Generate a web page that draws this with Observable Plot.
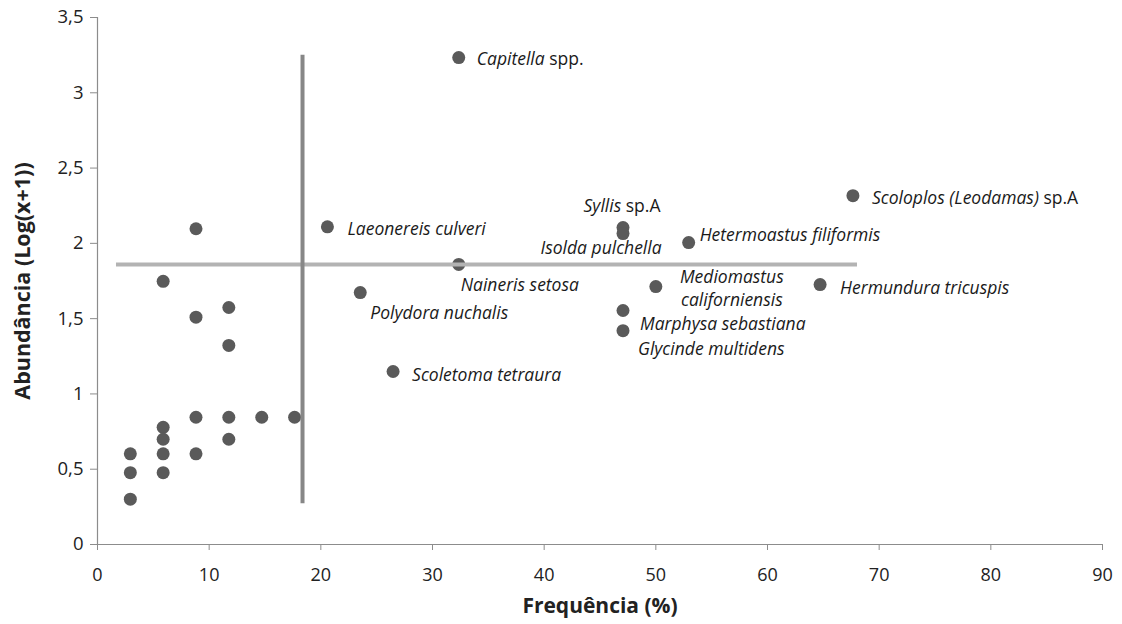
<!DOCTYPE html>
<html>
<head>
<meta charset="utf-8">
<script src="https://cdn.jsdelivr.net/npm/d3@7"></script>
<script src="https://cdn.jsdelivr.net/npm/@observablehq/plot@0.6"></script>
<style>
  html, body { margin: 0; padding: 0; background: #fff; }
  #chart svg { display: block; }
</style>
</head>
<body>
<div id="chart"></div>
<script>
// Unlabelled species: frequency (%) and abundance log(x+1)
const freqUnlabelled = [2.94, 2.94, 2.94, 5.88, 5.88, 5.88, 5.88, 5.88, 8.82, 8.82, 8.82, 8.82, 11.76, 11.76, 11.76, 11.76, 14.71, 17.65];
const abundUnlabelled = [0.602, 0.477, 0.301, 0.778, 0.699, 0.602, 0.477, 1.748, 0.845, 0.602, 2.097, 1.51, 0.845, 0.699, 1.574, 1.322, 0.845, 0.845];

// Labelled species
const speciesNames = [
  "Capitella spp.", "Laeonereis culveri", "Naineris setosa", "Polydora nuchalis",
  "Scoletoma tetraura", "Syllis sp.A", "Isolda pulchella", "Hetermoastus filiformis",
  "Mediomastus\ncaliforniensis", "Hermundura tricuspis", "Scoloplos (Leodamas) sp.A",
  "Marphysa sebastiana", "Glycinde multidens"
];
const speciesFreq = [32.35, 20.59, 32.35, 23.53, 26.47, 47.06, 47.06, 52.94, 50.0, 64.71, 67.65, 47.06, 47.06];
const speciesAbund = [3.234, 2.11, 1.86, 1.673, 1.149, 2.105, 2.065, 2.005, 1.713, 1.726, 2.317, 1.554, 1.42];

// Reference lines (mean frequency / mean abundance)
const meanFreq = 18.36;
const meanAbund = 1.859;
const vLineRange = [0.27, 3.25];
const hLineRange = [1.7, 68.06];

const xTicks = [0, 10, 20, 30, 40, 50, 60, 70, 80, 90];
const yTicks = [0, 0.5, 1, 1.5, 2, 2.5, 3, 3.5];

const pts = freqUnlabelled.map((f, i) => ({f, a: abundUnlabelled[i]}));
const sp = speciesNames.map((n, i) => ({name: n, f: speciesFreq[i], a: speciesAbund[i]}));

// label placement (pixel offsets from the point)
const place = {
  "Capitella spp.": {dx: 18, dy: 0, anchor: "start"},
  "Laeonereis culveri": {dx: 20, dy: 1, anchor: "start"},
  "Naineris setosa": {dx: 2, dy: 19, anchor: "start"},
  "Polydora nuchalis": {dx: 10, dy: 19, anchor: "start"},
  "Scoletoma tetraura": {dx: 19, dy: 2, anchor: "start"},
  "Syllis sp.A": {dx: -1, dy: -23, anchor: "middle"},
  "Isolda pulchella": {dx: -22, dy: 13, anchor: "middle"},
  "Hetermoastus filiformis": {dx: 11, dy: -9, anchor: "start"},
  "Mediomastus\ncaliforniensis": {dx: 76, dy: 1, anchor: "middle"},
  "Hermundura tricuspis": {dx: 20, dy: 2, anchor: "start"},
  "Scoloplos (Leodamas) sp.A": {dx: 19, dy: 1, anchor: "start"},
  "Marphysa sebastiana": {dx: 17, dy: 12, anchor: "start"},
  "Glycinde multidens": {dx: 15, dy: 17, anchor: "start"}
};

const fmt = d => String(d).replace(".", ",");
const labelFont = "'Open Sans', sans-serif";

function labelMarks() {
  return sp.map(d => Plot.text([d], {
    x: "f", y: "a", text: "name",
    dx: place[d.name].dx, dy: place[d.name].dy,
    textAnchor: place[d.name].anchor,
    lineAnchor: "middle",
    lineHeight: 1.3,
    fontSize: 17.5, fontStyle: "italic",
    fontFamily: labelFont, fill: "#1a1a1a",
    className: "splabel"
  }));
}

const chart = Plot.plot({
  width: 1122,
  height: 624,
  marginLeft: 97,
  marginRight: 20,
  marginTop: 17,
  marginBottom: 80,
  style: {background: "#fff", color: "#222"},
  x: {domain: [0, 90]},
  y: {domain: [0, 3.5]},
  marks: [
    Plot.ruleY([0], {stroke: "#8c8c8c", strokeWidth: 1.2}),
    Plot.ruleX([0], {stroke: "#8c8c8c", strokeWidth: 1.2}),
    Plot.axisX({
      ticks: xTicks, tickSize: 6, tickPadding: 18, stroke: "#8c8c8c",
      fontSize: 18, fontFamily: "'Open Sans', sans-serif",
      fill: "#222",
      label: "Frequência (%)", labelAnchor: "center", labelArrow: "none", labelOffset: 68
    }),
    Plot.axisY({
      ticks: yTicks, tickSize: 7, tickPadding: 7, stroke: "#8c8c8c",
      tickFormat: fmt,
      fontSize: 18.5, fontFamily: "'Open Sans', sans-serif",
      fill: "#222",
      label: "Abundância (Log(x+1))", labelAnchor: "center", labelArrow: "none", labelOffset: 83
    }),
    Plot.dot(pts, {x: "f", y: "a", r: 6.5, fill: "#5a5a5a", stroke: "none"}),
    Plot.dot(sp, {x: "f", y: "a", r: 6.5, fill: "#5a5a5a", stroke: "none"}),
    Plot.ruleY([meanAbund], {x1: hLineRange[0], x2: hLineRange[1], stroke: "#b3b3b3", strokeWidth: 4}),
    Plot.ruleX([meanFreq], {y1: vLineRange[0], y2: vLineRange[1], stroke: "#878787", strokeWidth: 4}),
    ...labelMarks()
  ]
});

document.getElementById("chart").appendChild(chart);

// axis title styling
d3.select(chart).selectAll("g[aria-label='x-axis label'] text, g[aria-label='y-axis label'] text")
  .attr("font-weight", "bold")
  .attr("fill", "#222")
  .attr("font-family", "'Open Sans', sans-serif");
d3.select(chart).selectAll("g[aria-label='x-axis label'] text").attr("font-size", 21);
d3.select(chart).selectAll("g[aria-label='y-axis label'] text").attr("font-size", 21.5);

// Roman (non-italic) suffixes like "spp." and "sp.A"
d3.select(chart).selectAll(".splabel text").each(function() {
  const t = this.textContent;
  if (this.querySelector("tspan")) return;
  const m = t.match(/^(.*?)(\s+spp?\.\S*)$/);
  if (!m) return;
  const el = d3.select(this);
  el.text(null);
  el.append("tspan").text(m[1]);
  el.append("tspan").attr("font-style", "normal").text(m[2].replace(/^\s+/, "\u00a0"));
});
</script>
</body>
</html>
